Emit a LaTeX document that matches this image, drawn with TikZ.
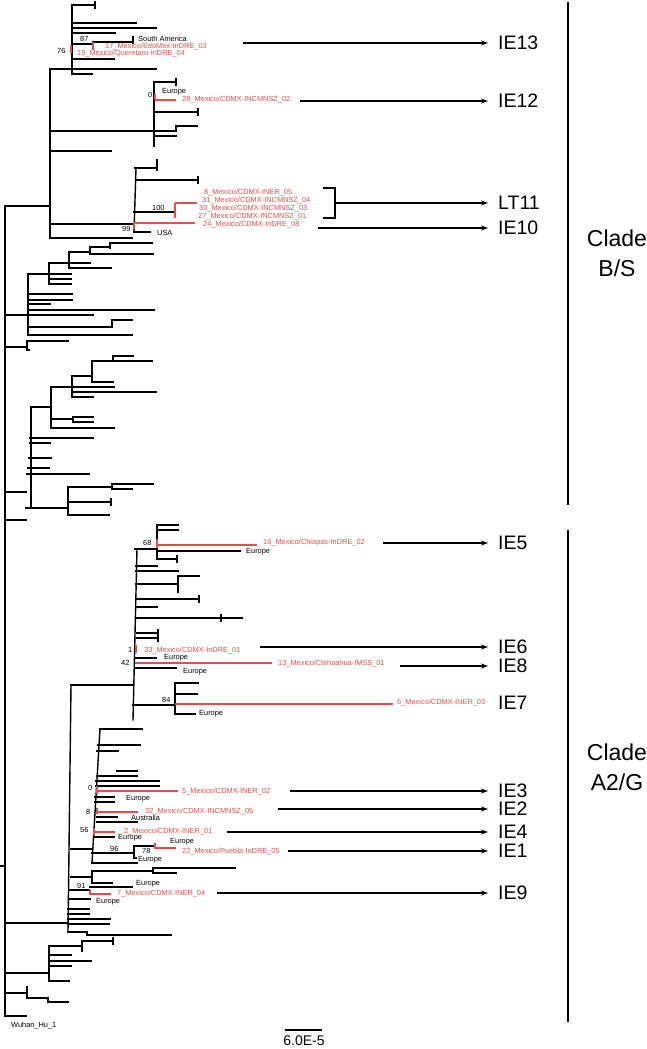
\documentclass[tikz,border=0pt]{standalone}
\usepackage{fontspec}
\setmainfont{Liberation Sans}
\usetikzlibrary{arrows.meta,positioning}
\definecolor{mxred}{RGB}{224,78,78}

\begin{document}
\begin{tikzpicture}[x=1pt,y=-1pt,
  br/.style={line width=1.4pt,line cap=rect},
  rbr/.style={line width=2.7pt,mxred},
  lab/.style={font=\fontsize{7.4}{8}\selectfont,anchor=west,inner sep=0pt},
  mx/.style={lab,text=mxred},
  ie/.style={font=\fontsize{19.5}{22}\selectfont,anchor=west,inner xsep=10pt,inner ysep=0pt},
  clade/.style={font=\fontsize{23}{30}\selectfont,align=center,inner sep=0pt},
  arr/.style={line width=1.5pt,-{Stealth[length=7pt,width=5pt]}}]
\useasboundingbox (0,0) rectangle (647,1049);
\foreach \y/\a/\b in {5/73/95,23/72/136,28/72/156,33/72/115,44/72/93,42/93/133,59/72/114,69/50/156,74/72/92,
  131/50/176,82/154/176,112/155/198,126/176/197,136/155/176,151/50/111,168/135/157,180/136/198,212/134/175,
  224/50/134,232/134/150,238/50/132,206/5/50,243/110/152,247/90/110,254/90/153,252/69/90,263/49/90,268/69/111,
  274/28/71,279/49/71,284/49/71,294/30/72,300/30/72,304/30/50,310/30/154,315/5/93,327/28/112,320/112/132,
  335/28/132,341/27/68,347/5/27,350/27/29,356/113/133,361/92/152,382/92/113,376/72/92,387/51/114,392/72/156,
  397/72/93,407/31/51,419/51/73,417/73/93,422/73/93,428/51/114,438/30/93,443/30/50,458/29/51,468/28/49,
  474/27/89,492/5/26,508/26/68,487/68/112,484/112/153,489/112/132,502/68/111,515/68/109,520/5/26,
  549/135/157,525/157/178,530/157/178,551/157/240,559/157/177,566/136/157,571/136/178,584/136/178,576/178/199,
  599/136/199,607/136/157,618/137/242,633/137/158,638/137/158,658/135/156,668/135/176,685/71/133,705/133/175,
  683/175/198,694/175/197,714/175/195,729/100/142,745/98/140,751/97/118,771/117/137,776/97/137,781/96/159,
  786/96/159,797/95/114,802/95/114,817/97/117,822/97/137,837/94/114,849/71/92,853/92/134,846/134/155,
  858/134/136,863/92/137,877/71/92,871/92/153,868/153/235,873/153/176,883/92/112,890/70/90,887/90/132,
  899/70/90,909/68/89,914/68/89,919/68/110,924/68/109,932/68/87,935/87/171,923/5/68,946/50/82,941/82/113,
  955/49/71,961/49/91,966/49/71,981/49/69,973/5/49,993/5/27,998/27/48,1002/48/68,1016/5/26,866/0/5}
  \draw[br] (\a,\y) -- (\b,\y);
\foreach \x/\a/\b in {72/5/74,50/69/238,154/82/146,176/126/131,157/160/170,5/206/1016,110/243/248,90/247/254,
  69/252/268,49/263/284,28/274/335,112/320/327,27/341/350,113/356/361,92/361/382,72/376/397,51/387/428,
  73/417/422,31/407/508,68/487/515,112/484/489,157/525/559,178/576/592,175/683/714,134/846/858,92/871/883,
  153/868/873,87/932/935,49/946/981,82/941/951,27/987/998,48/998/1002}
  \draw[br] (\x,\a) -- (\x,\b);
\draw[br] (136,168) -- (134,232);
\draw[br] (137,549) -- (133,720);
\draw[br] (100,729) -- (92,863);
\draw[br] (71,685) -- (68,932);
\foreach \x/\y in {95/5,133/40,176/82,198/112,198/180,177/559,199/599,221/618,158/633,158/638,111/502,113/941}
  \draw[br] (\x,\y-3) -- (\x,\y+3);
\foreach \y/\a/\b in {100/155/176,203/175/197,223/134/195,545/157/257,663/135/272,704/175/393,791/96/178,
  812/97/138,832/94/115,848/155/176,894/90/111}
  \draw[rbr] (\a,\y) -- (\b,\y);
\foreach \x/\a/\b in {71/45/53,93/42/50,155/94/100,175/203/218,134/222/229,157/539/548,136/645/653,
  97/786/794,97/808/814,94/828/835,155/843/849,90/889/895}
  \draw[rbr] (\x,\a) -- (\x,\b);
\foreach \x/\y/\t [count=\i] in {138/39/South America,162/92/Europe,157/233/USA,246/552/Europe,164/658/Europe,
  183/672/Europe,199/714/Europe,126/799/Europe,131/818/Australia,118/838/Europe,170/842/Europe,138/860/Europe,
  136/884/Europe,96/902/Europe,11/1026/Wuhan\_Hu\_1,80/39/87,57/51/76,148/95/0,152/208/100,122/229/99,
  143/543/68,128/650/1,121/663/42,162/700/84,88/788/0,86/812/8,80/830/56,110/849/96,142/851/78,77/886/91}
  \node[lab] (g\i) at (\x,\y) {\t};
\foreach \x/\y/\t [count=\i] in {105/47/{17\_Mexico/EdoMex-InDRE\_03},77/54/{19\_Mexico/Queretaro-InDRE\_04},
  182/100/{28\_Mexico/CDMX-INCMNSZ\_02},204/193/{8\_Mexico/CDMX-INER\_05},202/201/{31\_Mexico/CDMX-INCMNSZ\_04},
  199/209/{30\_Mexico/CDMX-INCMNSZ\_03},198/217/{27\_Mexico/CDMX-INCMNSZ\_01},203/225/{24\_Mexico/CDMX-InDRE\_08},
  263/543/{16\_Mexico/Chiapas-InDRE\_02},144/651/{33\_Mexico/CDMX-InDRE\_01},278/664/{13\_Mexico/Chihuahua-IMSS\_01},
  397/703/{6\_Mexico/CDMX-INER\_03},182/792/{5\_Mexico/CDMX-INER\_02},145/812/{32\_Mexico/CDMX-INCMNSZ\_05},
  124/832/{2\_Mexico/CDMX-INER\_01},182/852/{22\_Mexico/Puebla-InDRE\_05},117/894/{7\_Mexico/CDMX-INER\_04}}
  \node[mx] (m\i) at (\x,\y) {\t};
\foreach \n/\xs/\y in {13/243/43,12/300/101,10/318/228,5/383/543,6/260/647,8/400/666,3/290/791,2/278/809,
  4/227/832,1/288/851,9/217/893}{
  \coordinate (s\n) at (\xs,\y);
  \node[ie] (ie\n) at (488,\y) {IE\n};
  \draw[arr] (s\n) -- (ie\n);
}
\node[ie] (ie7) at (488,703) {IE7};
\draw[line width=1.5pt] (323,188) -- (335,188) -- (335,218) -- (323,218);
\coordinate (slt) at (335,203);
\node[ie] (lt11) at (488,203) {LT11};
\draw[arr] (slt) -- (lt11);
\draw[line width=2.4pt] (568,2) -- (568,505);
\draw[line width=2.4pt] (568,530) -- (568,1022);
\node[clade] (cbs) at (617,253) {Clade\\B/S};
\node[clade] (cag) at (617,767) {Clade\\A2/G};
\coordinate (sa) at (285,1030);
\coordinate (sb) at (322,1030);
\draw[line width=1.3pt] (sa) -- (sb);
\node[font=\fontsize{14}{16}\selectfont,inner sep=0pt] (sc) at (304,1041) {6.0E-5};
\end{tikzpicture}
\end{document}
